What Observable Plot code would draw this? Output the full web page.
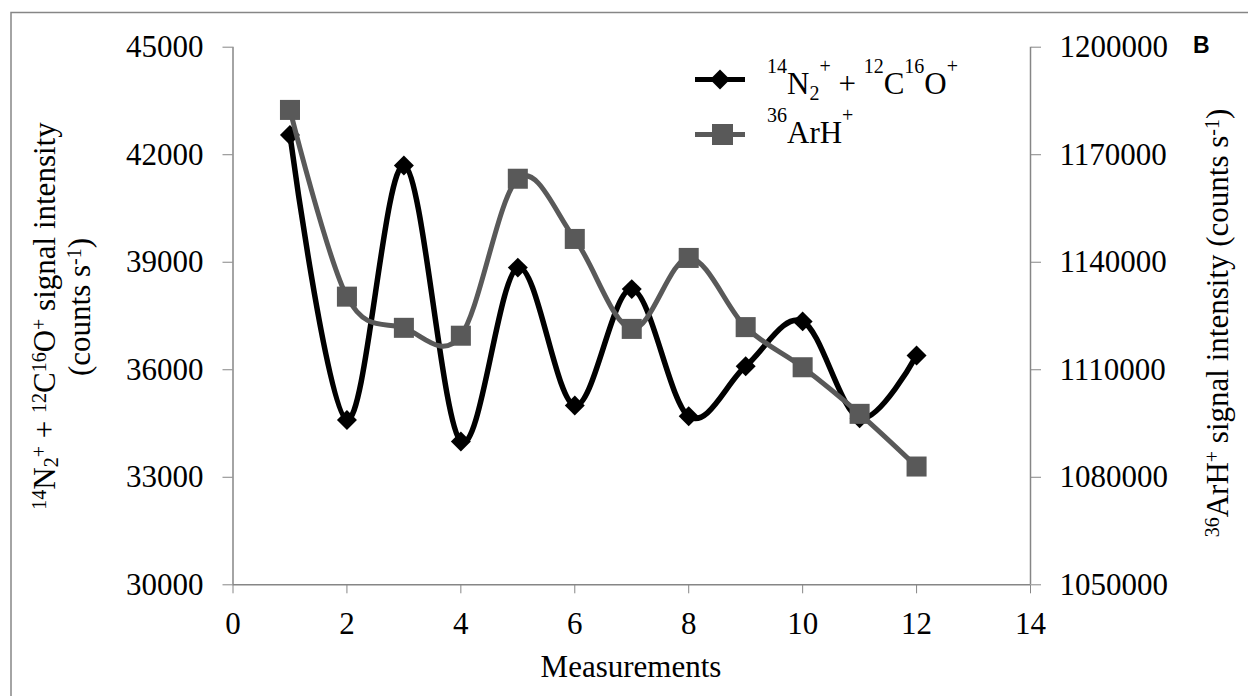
<!DOCTYPE html>
<html><head><meta charset="utf-8">
<script src="https://cdn.jsdelivr.net/npm/d3@7"></script>
<script src="https://cdn.jsdelivr.net/npm/@observablehq/plot@0.6"></script>
<style>html,body{margin:0;padding:0;background:#fff;overflow:hidden}</style>
</head><body><div id="chart"></div>
<script>
// ---- data ----
const measurements = [1,2,3,4,5,6,7,8,9,10,11,12];
const n2coSignal = [42550, 34600, 41700, 34000, 38850, 35000, 38250, 34700, 36100, 37350, 34650, 36400];
const arhSignal  = [1182500, 1130400, 1121700, 1119500, 1163300, 1146500, 1121400, 1141200, 1121900, 1110700, 1097700, 1083000];
const xTicks = [0,2,4,6,8,10,12,14];
const leftTicks = [30000,33000,36000,39000,42000,45000];
const rightTicks = [1050000,1080000,1110000,1140000,1170000,1200000];
const leftDomain = [30000, 45000];
const rightDomain = [1050000, 1200000];
const xLabel = "Measurements";

// secondary axis mapping onto primary scale
const toLeft = v => leftDomain[0] + (v - rightDomain[0]) * (leftDomain[1]-leftDomain[0]) / (rightDomain[1]-rightDomain[0]);
const fromLeft = v => Math.round(rightDomain[0] + (v - leftDomain[0]) * (rightDomain[1]-rightDomain[0]) / (leftDomain[1]-leftDomain[0]));

const rows = measurements.map((m, i) => ({m, n2co: n2coSignal[i], arh: toLeft(arhSignal[i])}));

const AX = "#868686";
const GRAY = "#595959";
const FONT = "'Liberation Serif','Times New Roman',serif";

const plot = Plot.plot({
  width: 1248, height: 696,
  marginLeft: 232.5, marginRight: 218, marginTop: 46.7, marginBottom: 111.7,
  style: {fontFamily: FONT, fontSize: "31px", background: "white", color: "black"},
  x: {domain: [0, 14]},
  y: {domain: leftDomain},
  marks: [
    Plot.ruleX([0, 14], {stroke: AX, strokeWidth: 1.5}),
    Plot.ruleY([leftDomain[0]], {stroke: AX, strokeWidth: 1.5}),
    Plot.axisX(xTicks, {anchor: "bottom", tickSize: 9, tickPadding: 18, stroke: AX, fill: "black", fontSize: 31, tickFormat: d => String(d), label: null}),
    Plot.axisY(leftTicks, {anchor: "left", tickSize: 10, tickPadding: 19.5, stroke: AX, fill: "black", fontSize: 31, tickFormat: d => String(d), label: null}),
    Plot.axisY(rightTicks.map(toLeft), {anchor: "right", tickSize: 10, tickPadding: 19, stroke: AX, fill: "black", fontSize: 31, tickFormat: d => String(fromLeft(d)), label: null}),
    Plot.line(rows, {x: "m", y: "n2co", curve: "cardinal", stroke: "black", strokeWidth: 5.5}),
    Plot.dot(rows, {x: "m", y: "n2co", symbol: "diamond2", r: 9, fill: "black", stroke: null}),
    Plot.line(rows, {x: "m", y: "arh", curve: "cardinal", stroke: GRAY, strokeWidth: 5}),
    Plot.dot(rows, {x: "m", y: "arh", symbol: "square", r: 11.3, fill: GRAY, stroke: null})
  ]
});
document.getElementById("chart").appendChild(plot);

const svg = d3.select(plot);
// chart-area border (only top and left visible in the reference)
svg.insert("rect", ":first-child").attr("x", 11).attr("y", 12.5).attr("width", 1400).attr("height", 900)
  .attr("fill", "none").attr("stroke", AX).attr("stroke-width", 1.5);

function rich(sel, parts, base, small, supShift, subShift) {
  let cur = 0;
  for (const p of parts) {
    const target = p.k === "sup" ? supShift : p.k === "sub" ? subShift : 0;
    sel.append("tspan").attr("dy", target - cur).attr("font-size", p.k ? small : base).text(p.t);
    cur = target;
  }
}
const n2coParts = [{t:"14",k:"sup"},{t:"N"},{t:"2",k:"sub"},{t:"+",k:"sup"},{t:" + "},{t:"12",k:"sup"},{t:"C"},{t:"16",k:"sup"},{t:"O"},{t:"+",k:"sup"}];
const arhParts = [{t:"36",k:"sup"},{t:"ArH"},{t:"+",k:"sup"}];
const countsParts = [{t:"(counts s"},{t:"-1",k:"sup"},{t:")"}];

const g = svg.append("g").attr("font-family", FONT).attr("fill", "black");
// left title (two lines)
const l1 = g.append("text").attr("transform", "translate(55,316) rotate(-90)").attr("text-anchor", "middle");
rich(l1, [...n2coParts, {t:" signal intensity"}], 31, 20, -9, 3);
const l2 = g.append("text").attr("transform", "translate(90,307) rotate(-90)").attr("text-anchor", "middle");
rich(l2, countsParts, 31, 20, -9, 3);
// right title
const r1 = g.append("text").attr("transform", "translate(1228,323) rotate(-90)").attr("text-anchor", "middle");
rich(r1, [...arhParts, {t:" signal intensity "}, ...countsParts], 31, 20, -9, 3);
// x title
g.append("text").attr("x", 631).attr("y", 677).attr("text-anchor", "middle").attr("font-size", 31).text(xLabel);
// panel letter
g.append("text").attr("x", 1193).attr("y", 52.5).attr("text-anchor", "start").attr("font-family", "'Liberation Sans',Arial,sans-serif")
  .attr("font-weight", "bold").style("font-size", "23px").text("B");

// legend
const lg = svg.append("g").attr("font-family", FONT).attr("text-anchor", "start");
lg.append("line").attr("x1", 695).attr("x2", 745).attr("y1", 79.5).attr("y2", 79.5).attr("stroke", "black").attr("stroke-width", 5);
lg.append("path").attr("d", d3.symbol(d3.symbolDiamond2, Math.PI*81)()).attr("transform", "translate(720,79.5)").attr("fill", "black");
const t1 = lg.append("text").attr("x", 767).attr("y", 94).attr("text-anchor", "start");
rich(t1, n2coParts, 31, 20, -21, 6);
lg.append("line").attr("x1", 695).attr("x2", 745).attr("y1", 134.5).attr("y2", 134.5).attr("stroke", GRAY).attr("stroke-width", 5);
lg.append("rect").attr("x", 712).attr("y", 124).attr("width", 21).attr("height", 21).attr("fill", GRAY);
const t2 = lg.append("text").attr("x", 767).attr("y", 142.7).attr("text-anchor", "start");
rich(t2, arhParts, 31, 20, -21, 6);
</script></body></html>
